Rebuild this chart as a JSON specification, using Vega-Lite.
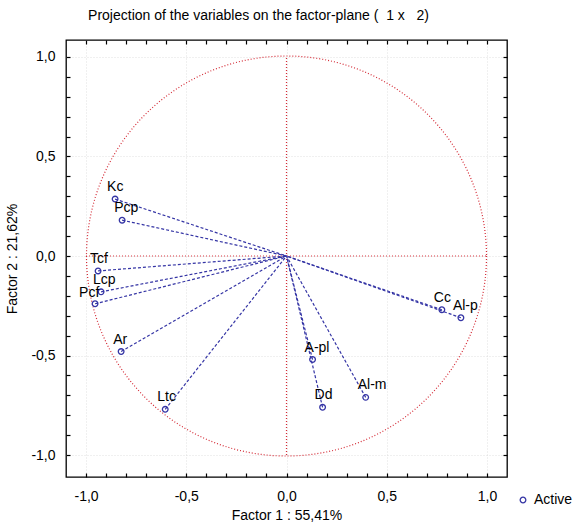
{
  "$schema": "https://vega.github.io/schema/vega-lite/v6.json",
  "width": 441,
  "height": 437,
  "autosize": {"type": "none"},
  "padding": {"left": 66, "top": 40, "right": 72, "bottom": 48},
  "background": "white",
  "title": {
    "text": "Projection of the variables on the factor-plane (\u00a0 1 x \u00a0 2)",
    "anchor": "middle",
    "dx": -28,
    "offset": 16,
    "fontSize": 14,
    "fontWeight": "normal",
    "font": "Liberation Sans",
    "color": "#000"
  },
  "config": {
    "view": {"stroke": "#000", "strokeWidth": 1.3},
    "font": "Liberation Sans",
    "axis": {"labelFont": "Liberation Sans", "titleFont": "Liberation Sans"}
  },
  "datasets": {
    "vars": [
      {"name": "Kc", "x": -0.855, "y": 0.286, "type": "Active"},
      {"name": "Pcp", "x": -0.82, "y": 0.18, "type": "Active"},
      {"name": "Tcf", "x": -0.94, "y": -0.075, "type": "Active"},
      {"name": "Lcp", "x": -0.925, "y": -0.18, "type": "Active"},
      {"name": "Pcf", "x": -0.955, "y": -0.24, "type": "Active"},
      {"name": "Ar", "x": -0.825, "y": -0.48, "type": "Active"},
      {"name": "Ltc", "x": -0.605, "y": -0.77, "type": "Active"},
      {"name": "A-pl", "x": 0.13, "y": -0.52, "type": "Active"},
      {"name": "Dd", "x": 0.18, "y": -0.76, "type": "Active"},
      {"name": "Al-m", "x": 0.395, "y": -0.71, "type": "Active"},
      {"name": "Cc", "x": 0.775, "y": -0.27, "type": "Active"},
      {"name": "Al-p", "x": 0.87, "y": -0.31, "type": "Active"}
    ],
    "cross": [
      {"x": -1, "x2": 1, "y": 0, "y2": 0},
      {"x": 0, "x2": 0, "y": -1, "y2": 1}
    ],
    "center": [{"x": 0, "y": 0}]
  },
  "layer": [
    {
      "data": {"name": "center"},
      "mark": {"type": "point", "shape": "circle", "size": 160000, "filled": false, "stroke": "#d42a35", "strokeWidth": 1.2, "strokeDash": [1, 2], "opacity": 1},
      "encoding": {
        "x": {
          "field": "x", "type": "quantitative",
          "scale": {"domain": [-1.1, 1.1], "nice": false, "zero": false},
          "axis": {
            "orient": "bottom",
            "values": [-1, -0.9, -0.8, -0.7, -0.6, -0.5, -0.4, -0.3, -0.2, -0.1, 0, 0.1, 0.2, 0.3, 0.4, 0.5, 0.6, 0.7, 0.8, 0.9, 1],
            "labelExpr": "abs(datum.value*2 - round(datum.value*2)) < 0.001 ? replace(replace(format(datum.value, '.1f'), '.', ','), '\u2212', '-') : ''",
            "domain": false,
            "tickSize": -4,
            "tickColor": "#000",
            "tickWidth": 1.2,
            "labelPadding": 16,
            "labelFontSize": 14,
            "labelColor": "#000",
            "labelFlush": false,
            "labelOverlap": false,
            "grid": true,
            "gridColor": "#c4c4c4",
            "gridDash": [1, 2],
            "gridOpacity": {"condition": {"test": "abs(datum.value*2 - round(datum.value*2)) < 0.001", "value": 0.5}, "value": 0},
            "title": "Factor 1 : 55,41%",
            "titleFontSize": 14,
            "titleFontWeight": "normal",
            "titleColor": "#000",
            "titlePadding": 5
          }
        },
        "y": {
          "field": "y", "type": "quantitative",
          "scale": {"domain": [-1.11, 1.085], "nice": false, "zero": false},
          "axis": {
            "orient": "left",
            "values": [-1, -0.9, -0.8, -0.7, -0.6, -0.5, -0.4, -0.3, -0.2, -0.1, 0, 0.1, 0.2, 0.3, 0.4, 0.5, 0.6, 0.7, 0.8, 0.9, 1],
            "labelExpr": "abs(datum.value*2 - round(datum.value*2)) < 0.001 ? replace(replace(format(datum.value, '.1f'), '.', ','), '\u2212', '-') : ''",
            "domain": false,
            "tickSize": -4,
            "tickColor": "#000",
            "tickWidth": 1.2,
            "labelPadding": 15,
            "labelFontSize": 14,
            "labelColor": "#000",
            "labelFlush": false,
            "labelOverlap": false,
            "grid": true,
            "gridColor": "#c4c4c4",
            "gridDash": [1, 2],
            "gridOpacity": {"condition": {"test": "abs(datum.value*2 - round(datum.value*2)) < 0.001", "value": 0.5}, "value": 0},
            "title": "Factor 2 : 21,62%",
            "titleFontSize": 14,
            "titleFontWeight": "normal",
            "titleColor": "#000",
            "titlePadding": 11
          }
        }
      }
    },
    {
      "data": {"name": "cross"},
      "mark": {"type": "rule", "color": "#d42a35", "strokeWidth": 1.2, "strokeDash": [1, 2]},
      "encoding": {
        "x": {"field": "x", "type": "quantitative", "axis": null},
        "x2": {"field": "x2"},
        "y": {"field": "y", "type": "quantitative", "axis": null},
        "y2": {"field": "y2"}
      }
    },
    {
      "data": {"name": "vars"},
      "mark": {"type": "rule", "color": "#3535a5", "strokeWidth": 1.2, "strokeDash": [3, 2]},
      "encoding": {
        "x": {"field": "x", "type": "quantitative", "axis": null},
        "y": {"field": "y", "type": "quantitative", "axis": null},
        "x2": {"datum": 0},
        "y2": {"datum": 0}
      }
    },
    {
      "data": {"name": "vars"},
      "mark": {"type": "point", "shape": "circle", "size": 32, "filled": false, "strokeWidth": 1.3, "opacity": 1},
      "encoding": {
        "x": {"field": "x", "type": "quantitative", "axis": null},
        "y": {"field": "y", "type": "quantitative", "axis": null},
        "color": {
          "field": "type", "type": "nominal",
          "scale": {"range": ["#3535a5"]},
          "legend": {
            "orient": "none",
            "legendX": 450,
            "legendY": 453,
            "title": null,
            "padding": 0,
            "symbolSize": 32,
            "symbolStrokeWidth": 1.3,
            "labelFontSize": 14,
            "labelColor": "#000",
            "labelOffset": 4,
            "labelLimit": 200
          }
        }
      }
    },
    {
      "data": {"name": "vars"},
      "transform": [{"filter": "datum.name != 'Pcf'"}],
      "mark": {"type": "text", "align": "left", "baseline": "bottom", "dx": -8, "dy": -5, "fontSize": 14, "color": "#000", "font": "Liberation Sans"},
      "encoding": {
        "x": {"field": "x", "type": "quantitative", "axis": null},
        "y": {"field": "y", "type": "quantitative", "axis": null},
        "text": {"field": "name"}
      }
    },
    {
      "data": {"name": "vars"},
      "transform": [{"filter": "datum.name == 'Pcf'"}],
      "mark": {"type": "text", "align": "left", "baseline": "bottom", "dx": -16, "dy": -4, "fontSize": 14, "color": "#000", "font": "Liberation Sans"},
      "encoding": {
        "x": {"field": "x", "type": "quantitative", "axis": null},
        "y": {"field": "y", "type": "quantitative", "axis": null},
        "text": {"field": "name"}
      }
    },
    {
      "data": {"name": "center"},
      "mark": {"type": "point", "opacity": 0},
      "encoding": {
        "x": {
          "field": "x", "type": "quantitative",
          "axis": {
            "orient": "top",
            "values": [-1, -0.9, -0.8, -0.7, -0.6, -0.5, -0.4, -0.3, -0.2, -0.1, 0, 0.1, 0.2, 0.3, 0.4, 0.5, 0.6, 0.7, 0.8, 0.9, 1],
            "labels": false, "domain": false, "grid": false, "title": null,
            "tickSize": -4, "tickColor": "#000", "tickWidth": 1.2
          }
        },
        "y": {
          "field": "y", "type": "quantitative",
          "axis": {
            "orient": "right",
            "values": [-1, -0.9, -0.8, -0.7, -0.6, -0.5, -0.4, -0.3, -0.2, -0.1, 0, 0.1, 0.2, 0.3, 0.4, 0.5, 0.6, 0.7, 0.8, 0.9, 1],
            "labels": false, "domain": false, "grid": false, "title": null,
            "tickSize": -4, "tickColor": "#000", "tickWidth": 1.2
          }
        }
      }
    }
  ],
  "resolve": {"axis": {"x": "independent", "y": "independent"}}
}
